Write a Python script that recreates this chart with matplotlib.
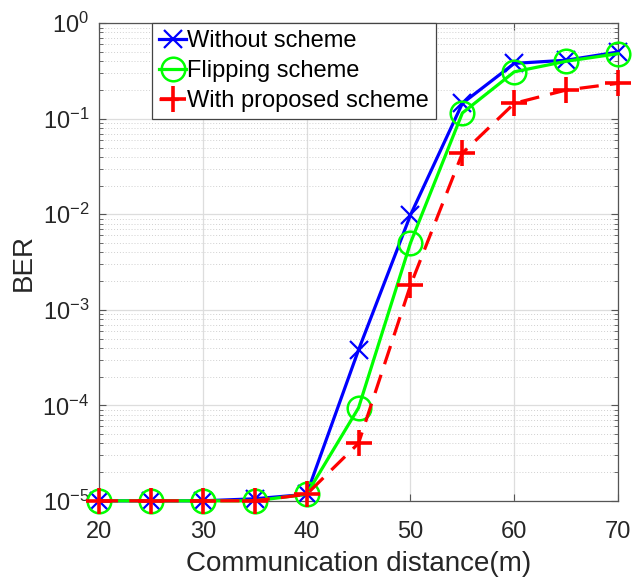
import matplotlib
matplotlib.use("Agg")
matplotlib.rcParams["font.family"] = ["Liberation Sans", "DejaVu Sans"]
matplotlib.rcParams["mathtext.fontset"] = "custom"
matplotlib.rcParams["mathtext.rm"] = "Liberation Sans"
import matplotlib.pyplot as plt
from matplotlib.ticker import LogLocator, NullFormatter

# 通信距离 (m)
distance = [20, 25, 30, 35, 40, 45, 50, 55, 60, 65, 70]

ber_without = [1.0e-5, 1.0e-5, 1.0e-5, 1.05e-5, 1.17e-5, 3.8e-4, 9.8e-3, 0.145, 0.38, 0.41, 0.50]
ber_flipping = [1.0e-5, 1.0e-5, 1.0e-5, 1.0e-5, 1.17e-5, 9.4e-5, 5.0e-3, 0.115, 0.31, 0.40, 0.48]
ber_proposed = [1.0e-5, 1.0e-5, 1.0e-5, 1.0e-5, 1.17e-5, 4.0e-5, 1.8e-3, 0.0436, 0.145, 0.20, 0.235]

labels = ["Without scheme", "Flipping scheme", "With proposed scheme"]

dark = "#262626"

fig = plt.figure(figsize=(6.34, 5.81), dpi=100)
ax = fig.add_axes([0.156, 0.138, 0.819, 0.822])

ax.plot(distance, ber_without, color="#0000ff", lw=2.3, marker="x", ms=13, mew=1.6,
        label=labels[0], zorder=3, clip_on=False)
ax.plot(distance, ber_flipping, color="#00ff00", lw=2.3, marker="o", ms=17, mew=1.8,
        mfc="none", label=labels[1], zorder=4, clip_on=False)
ax.plot(distance, ber_proposed, color="#ff0000", lw=2.3, ls=(0, (6, 3.5)), marker="+",
        ms=18.5, mew=2.6, label=labels[2], zorder=5, clip_on=False)

ax.set_yscale("log")
ax.set_xlim(20, 70)
ax.set_ylim(1e-5, 1)
ax.set_xticks([20, 30, 40, 50, 60, 70])
ax.yaxis.set_major_locator(LogLocator(base=10, numticks=10))
ax.yaxis.set_minor_locator(LogLocator(base=10, subs=range(2, 10), numticks=20))
ax.yaxis.set_minor_formatter(NullFormatter())

ax.grid(True, which="major", color="#dddddd", lw=0.9)
ax.grid(True, which="minor", axis="y", color="#d0d0d0", lw=0.7, ls=(0, (1, 2)))
ax.set_axisbelow(True)

for s in ax.spines.values():
    s.set_color("#555555")
    s.set_linewidth(0.9)
ax.tick_params(which="both", direction="in", top=True, right=True, colors="#555555",
               labelcolor=dark, labelsize=17)
ax.tick_params(which="major", length=5)
ax.tick_params(which="minor", length=3)
ax.tick_params(axis="x", which="major", pad=14.5)
ax.tick_params(axis="y", which="major", pad=7)

ax.set_xlabel("Communication distance(m)", fontsize=20, color=dark, labelpad=6)
ax.set_ylabel("BER", fontsize=20, color=dark, labelpad=4)

leg = ax.legend(loc="upper left", bbox_to_anchor=(0.102, 1.0), fontsize=17,
                handlelength=1.15, handletextpad=0.05, borderpad=0.3,
                labelspacing=0.33, borderaxespad=0.0, fancybox=False, framealpha=1)
leg.get_frame().set_edgecolor("#444444")
leg.get_frame().set_linewidth(0.9)

fig.savefig("out.png", dpi=100)
plt.close()
